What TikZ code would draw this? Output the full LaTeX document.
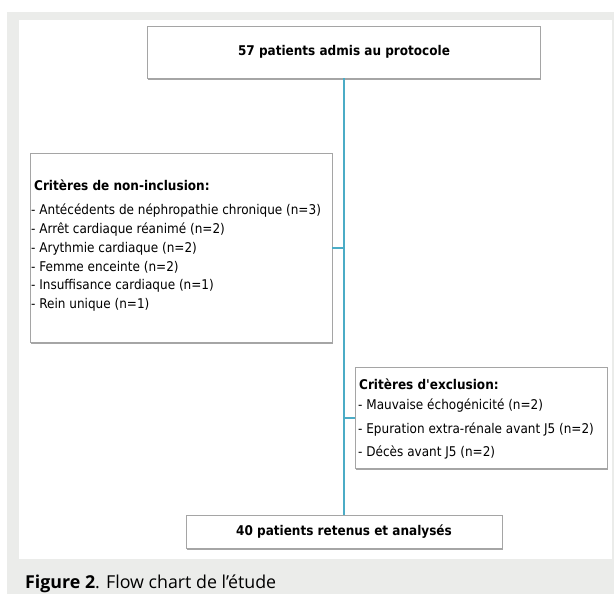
\documentclass[tikz,border=0pt]{standalone}
\usepackage{fontspec}
\setmainfont{DejaVu Sans Condensed}[Ligatures=TeXOff]
\newfontfamily\capfont{Open Sans}
\usetikzlibrary{shadows}
\definecolor{panelgray}{RGB}{235,236,234}
\definecolor{flowblue}{RGB}{75,172,198}
\definecolor{boxborder}{RGB}{165,165,165}
\tikzset{
  flowbox/.style={draw=boxborder, line width=0.8pt, fill=white, rectangle, inner sep=0pt,
    drop shadow={shadow xshift=0.8pt, shadow yshift=-1.6pt, fill=black, opacity=0.35}},
  boxtext/.style={inner sep=0pt, anchor=west, font=\fontsize{13.4}{16}\selectfont},
  boxtitle/.style={boxtext, font=\fontsize{13.4}{16}\selectfont\bfseries},
  boldtext/.style={inner sep=0pt, font=\fontsize{13.4}{16}\selectfont\bfseries},
  flowline/.style={draw=flowblue, line width=2pt},
}
\begin{document}
\begin{tikzpicture}[x=1pt,y=-1pt]
\useasboundingbox (0,0) rectangle (614,594);
\fill[white] (0,0) rectangle (614,594);
\fill[panelgray] (7,12) rectangle (614,594);
\fill[white] (19,20) rectangle (612,559);

% boxes
\node[flowbox, minimum width=393pt, minimum height=52pt] (top) at (344,52) {};
\node[flowbox, minimum width=302pt, minimum height=189pt] (noninc) at (181,247.5) {};
\node[flowbox, minimum width=252pt, minimum height=101pt] (excl) at (481,417.5) {};
\node[flowbox, minimum width=316pt, minimum height=33pt] (bottom) at (344,531.5) {};

% connectors
\draw[flowline] (top.south) -- (bottom.north);
\draw[flowline] (noninc.east) -- (noninc.east -| top.south);
\draw[flowline] (excl.west) -- (excl.west -| top.south);

% texts
\node[boldtext] (ttop) at (top.center) {57 patients admis au protocole};
\node[boldtext] (tbottom) at (bottom.center) {40 patients retenus et analysés};

\node[boxtitle] (n0) at (34,185) {Critères de non-inclusion:};
\node[boxtext] (n1) at (31,211) {- Antécédents de néphropathie chronique (n=3)};
\node[boxtext] (n2) at (31,230) {- Arrêt cardiaque réanimé (n=2)};
\node[boxtext] (n3) at (31,248.5) {- Arythmie cardiaque (n=2)};
\node[boxtext] (n4) at (31,267) {- Femme enceinte (n=2)};
\node[boxtext] (n5) at (31,286) {- Insuffisance cardiaque (n=1)};
\node[boxtext] (n6) at (31,304.5) {- Rein unique (n=1)};

\node[boxtitle] (e0) at (359,384) {Critères d'exclusion:};
\node[boxtext] (e1) at (358,406) {- Mauvaise échogénicité (n=2)};
\node[boxtext] (e2) at (358,430) {- Epuration extra-rénale avant J5 (n=2)};
\node[boxtext] (e3) at (358,452) {- Décès avant J5 (n=2)};

\node[inner sep=0pt, anchor=base west, font=\capfont\fontsize{17.8}{21}\selectfont] (cap) at (25,588) {{\bfseries Figure 2}. Flow chart de l’étude};
\end{tikzpicture}
\end{document}
